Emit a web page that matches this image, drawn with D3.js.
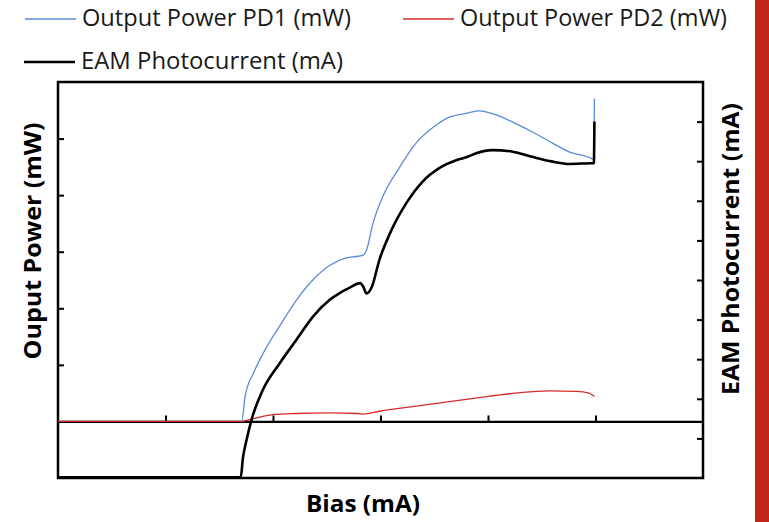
<!DOCTYPE html>
<html>
<head>
<meta charset="utf-8">
<script src="https://cdn.jsdelivr.net/npm/d3@7"></script>
<style>
  body { margin: 0; background: #fff; }
  text { font-family: "Open Sans", "Noto Sans", sans-serif; }
</style>
</head>
<body>
<div id="chart-area"></div>
<script>
// Bias (mA) vs output power / photocurrent
var pd1Bias  = [0, 1.71, 1.74, 1.82, 1.91, 2.06, 2.22, 2.37, 2.53, 2.68, 2.79, 2.84, 2.87, 2.93, 3.02, 3.18, 3.33, 3.49, 3.64, 3.81, 3.92, 4.04, 4.23, 4.41, 4.60, 4.76, 4.96, 4.985, 4.99];
var pd1Power = [0, 0, 0.44, 0.86, 1.21, 1.68, 2.15, 2.50, 2.76, 2.89, 2.92, 2.94, 3.03, 3.50, 3.97, 4.50, 4.92, 5.20, 5.38, 5.45, 5.49, 5.44, 5.29, 5.12, 4.92, 4.76, 4.65, 4.62, 5.71];

var pd2Bias  = [0, 1.71, 1.78, 2.00, 2.22, 2.53, 2.79, 2.84, 2.99, 3.33, 3.64, 3.95, 4.26, 4.57, 4.82, 4.94, 4.99];
var pd2Power = [0, 0, 0.03, 0.12, 0.14, 0.15, 0.14, 0.13, 0.18, 0.27, 0.35, 0.43, 0.50, 0.54, 0.53, 0.50, 0.44];

var eamBias    = [0, 1.70, 1.72, 1.754, 1.80, 1.905, 2.063, 2.218, 2.37, 2.528, 2.62, 2.71, 2.81, 2.84, 2.87, 2.92, 2.99, 3.09, 3.24, 3.39, 3.55, 3.71, 3.81, 3.89, 4.04, 4.23, 4.41, 4.60, 4.76, 4.96, 4.985, 4.99];
var eamCurrent = [-0.98, -0.98, -0.50, -0.04, 0.47, 1.22, 1.90, 2.49, 3.07, 3.50, 3.67, 3.80, 3.92, 3.83, 3.66, 3.83, 4.51, 5.19, 5.94, 6.48, 6.83, 7.03, 7.11, 7.20, 7.28, 7.24, 7.11, 6.99, 6.93, 6.95, 6.95, 8.0];

var xTicks = [1, 2, 3, 4, 5];
var leftTicks = [1, 2, 3, 4, 5];
var rightTicks = [0, 1, 2, 3, 4, 5, 6, 7, 8];

var legendNames = ["Output Power PD1 (mW)", "Output Power PD2 (mW)", "EAM Photocurrent (mA)"];

var margin = { left: 58, right: 66, top: 82, bottom: 44 },
    width = 769 - margin.left - margin.right,
    height = 522 - margin.top - margin.bottom;

var svg = d3.select("#chart-area").append("svg")
    .attr("width", 769)
    .attr("height", 522);

// red strip on the right edge of the slide
svg.append("rect")
    .attr("x", 755).attr("y", 0)
    .attr("width", 14).attr("height", 522)
    .attr("fill", "#c1281a");

var g = svg.append("g")
    .attr("transform", "translate(" + margin.left + "," + margin.top + ")");

// Scales
var x = d3.scaleLinear().domain([0, 6]).range([0, width]);
var yL = d3.scaleLinear().domain([-1, 6]).range([height, 0]);
var yR = d3.scaleLinear().domain([-1, 9]).range([height, 0]);

// inward ticks, no labels
g.append("g")
    .attr("class", "y axis left")
    .call(d3.axisRight(yL).tickValues(leftTicks).tickSize(6).tickFormat(""))
    .call(function(a) { a.select(".domain").remove(); });

g.append("g")
    .attr("class", "y axis right")
    .attr("transform", "translate(" + width + ",0)")
    .call(d3.axisLeft(yR).tickValues(rightTicks).tickSize(6).tickFormat(""))
    .call(function(a) { a.select(".domain").remove(); });

var xAxis = g.append("g")
    .attr("class", "x axis")
    .attr("transform", "translate(0," + yL(0) + ")")
    .call(d3.axisTop(x).tickValues(xTicks).tickSize(6).tickSizeOuter(0).tickFormat(""));
xAxis.select(".domain").attr("stroke-width", 2.2);

g.selectAll(".axis line").attr("stroke", "#000").attr("stroke-width", 2);

// plot frame
g.append("rect")
    .attr("width", width).attr("height", height)
    .attr("fill", "none")
    .attr("stroke", "#000")
    .attr("stroke-width", 2.5);

// Line generators
var lineL = d3.line()
    .curve(d3.curveMonotoneX)
    .x(function(d) { return x(d[0]); })
    .y(function(d) { return yL(d[1]); });
var lineR = d3.line()
    .curve(d3.curveMonotoneX)
    .x(function(d) { return x(d[0]); })
    .y(function(d) { return yR(d[1]); });

g.append("path")
    .attr("fill", "none")
    .attr("stroke", "#5b8bd8")
    .attr("stroke-width", 1.3)
    .attr("d", lineL(d3.zip(pd1Bias, pd1Power)));

g.append("path")
    .attr("fill", "none")
    .attr("stroke", "#d62b2b")
    .attr("stroke-width", 1.3)
    .attr("d", lineL(d3.zip(pd2Bias, pd2Power)));

g.append("path")
    .attr("fill", "none")
    .attr("stroke", "#000")
    .attr("stroke-width", 2.6)
    .attr("stroke-linejoin", "round")
    .attr("d", lineR(d3.zip(eamBias, eamCurrent)));

// Legend
var legend = [
    { name: legendNames[0], color: "#5b8bd8", w: 1.3, x: 25, y: 18, len: 269 },
    { name: legendNames[1], color: "#d62b2b", w: 1.3, x: 403, y: 18, len: 267 },
    { name: legendNames[2], color: "#000", w: 2.6, x: 24, y: 61, len: 262 }
];
legend.forEach(function(l) {
    svg.append("line")
        .attr("x1", l.x).attr("x2", l.x + 51)
        .attr("y1", l.y + 1).attr("y2", l.y + 1)
        .attr("stroke", l.color)
        .attr("stroke-width", l.w);
    svg.append("text")
        .attr("x", l.x + 57)
        .attr("y", l.y)
        .attr("dy", "0.35em")
        .attr("font-size", 24)
        .attr("fill", "#1a1a1a")
        .attr("textLength", l.len)
        .attr("lengthAdjust", "spacingAndGlyphs")
        .text(l.name);
});

// Axis titles
svg.append("text")
    .attr("transform", "translate(33,241) rotate(-90)")
    .attr("text-anchor", "middle")
    .attr("dy", "0.35em")
    .attr("font-size", 23)
    .attr("font-weight", "bold")
    .attr("textLength", 237)
    .attr("lengthAdjust", "spacingAndGlyphs")
    .text("Ouput Power (mW)");

svg.append("text")
    .attr("transform", "translate(731,249) rotate(-90)")
    .attr("text-anchor", "middle")
    .attr("dy", "0.35em")
    .attr("font-size", 23)
    .attr("font-weight", "bold")
    .attr("textLength", 292)
    .attr("lengthAdjust", "spacingAndGlyphs")
    .text("EAM Photocurrent (mA)");

svg.append("text")
    .attr("x", 363)
    .attr("y", 504)
    .attr("text-anchor", "middle")
    .attr("dy", "0.35em")
    .attr("font-size", 23)
    .attr("font-weight", "bold")
    .attr("textLength", 114)
    .attr("lengthAdjust", "spacingAndGlyphs")
    .text("Bias (mA)");
</script>
</body>
</html>
